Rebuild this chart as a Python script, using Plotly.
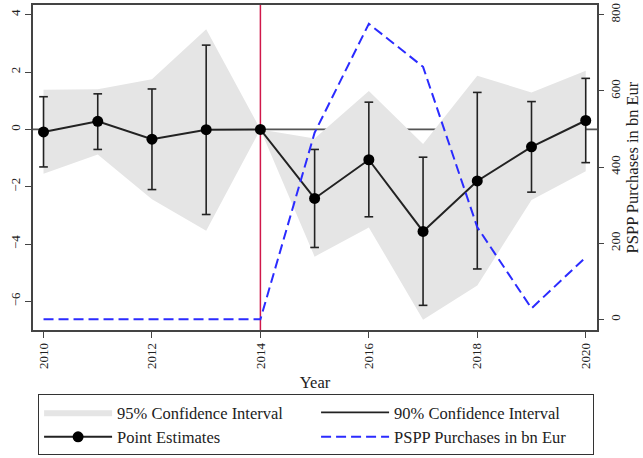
import plotly.graph_objects as go

years = [2010, 2011, 2012, 2013, 2014, 2015, 2016, 2017, 2018, 2019, 2020]
estimates = [-0.09, 0.28, -0.34, -0.01, 0.0, -2.41, -1.06, -3.56, -1.80, -0.61, 0.31]
ci90_lo = [-1.31, -0.70, -2.10, -2.97, None, -4.12, -3.05, -6.14, -4.87, -2.19, -1.16]
ci90_hi = [1.14, 1.24, 1.41, 2.94, None, -0.70, 0.95, -0.97, 1.29, 0.97, 1.78]
ci95_lo = [-1.55, -0.88, -2.44, -3.54, 0.0, -4.44, -3.42, -6.64, -5.45, -2.46, -1.46]
ci95_hi = [1.38, 1.40, 1.75, 3.49, 0.0, -0.32, 1.34, -0.51, 1.87, 1.29, 2.05]
pspp = [0, 0, 0, 0, 0, 490, 776, 663, 242, 29, 163]
event_year = 2014

x_ticks = [2010, 2012, 2014, 2016, 2018, 2020]
y_ticks = [-6, -4, -2, 0, 2, 4]
y2_ticks = [0, 200, 400, 600, 800]

FONT = "Liberation Serif"
DARK = "#222222"

fig = go.Figure()

# 95% CI band
fig.add_trace(go.Scatter(
    x=years + years[::-1], y=ci95_hi + ci95_lo[::-1],
    fill="toself", fillcolor="#e5e5e5", line=dict(width=0, color="#e5e5e5"),
    mode="lines", name="95% Confidence Interval", hoverinfo="skip"))

# 90% CI error bars built from data
cap = 0.08
ex, ey = [], []
for yr, lo, hi in zip(years, ci90_lo, ci90_hi):
    if lo is None or hi is None:
        continue
    ex += [yr, yr, None, yr - cap, yr + cap, None, yr - cap, yr + cap, None]
    ey += [lo, hi, None, lo, lo, None, hi, hi, None]
fig.add_trace(go.Scatter(
    x=ex, y=ey, mode="lines", line=dict(color=DARK, width=1.6),
    name="90% Confidence Interval"))

# Point estimates
fig.add_trace(go.Scatter(
    x=years, y=estimates, mode="lines+markers",
    line=dict(color=DARK, width=2), marker=dict(color="black", size=11),
    name="Point Estimates"))

# PSPP purchases on right axis
fig.add_trace(go.Scatter(
    x=years, y=pspp, mode="lines", yaxis="y2",
    line=dict(color="#2b2bff", width=2, dash="10px,5px"),
    name="PSPP Purchases in bn Eur"))

# zero line (below band) and event line
fig.add_shape(type="line", xref="paper", x0=0, x1=1, yref="y", y0=0, y1=0,
              line=dict(color="#555555", width=1.6), layer="below")
fig.add_shape(type="line", xref="x", x0=event_year, x1=event_year, yref="paper", y0=0, y1=1,
              line=dict(color="#d0184a", width=1.5), layer="below")

axis_common = dict(showgrid=False, zeroline=False, ticks="outside", ticklen=6,
                   tickcolor="#444444", tickwidth=1.3,
                   tickfont=dict(family=FONT, size=13, color=DARK))

fig.update_layout(
    width=643, height=458,
    margin=dict(l=33, r=46, t=3, b=128),
    paper_bgcolor="white", plot_bgcolor="white",
    font=dict(family=FONT, color=DARK),
    xaxis=dict(range=[2009.806, 2020.208], tickvals=x_ticks, tickangle=-90,
               showline=True, mirror=True, linecolor="#444444", linewidth=1.5,
               title=dict(text="Year", font=dict(family=FONT, size=16.5, color=DARK), standoff=8),
               **axis_common),
    yaxis=dict(range=[-7.0, 4.34], tickvals=y_ticks, tickangle=-90,
               showline=True, mirror=True, linecolor="#444444", linewidth=1.5,
               **axis_common),
    yaxis2=dict(range=[-27.9, 825.3], tickvals=y2_ticks, tickangle=-90,
                overlaying="y", side="right", showline=False,
                title=dict(text="PSPP Purchases in bn Eur",
                           font=dict(family=FONT, size=16.5, color=DARK), standoff=4),
                **axis_common),
    legend=dict(orientation="h", x=0.009, y=-0.385, xanchor="left", yanchor="bottom",
                bordercolor="#333333", borderwidth=1, bgcolor="white",
                font=dict(family=FONT, size=16.5, color=DARK),
                itemwidth=68, entrywidth=194, traceorder="normal"),
    showlegend=True,
)

fig.write_html("out.html")
